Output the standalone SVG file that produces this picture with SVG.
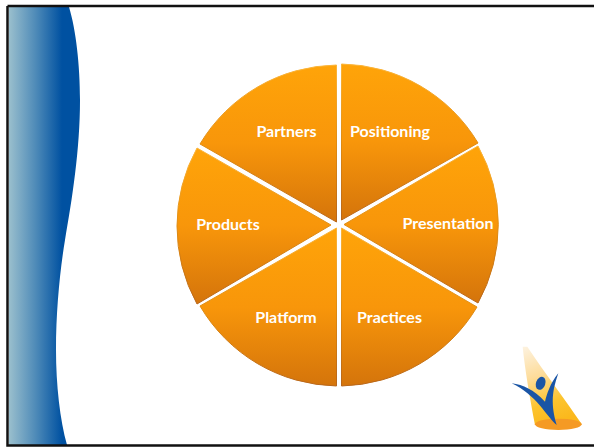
<svg xmlns="http://www.w3.org/2000/svg" width="594" height="447" viewBox="0 0 594 447">
<style>
.w{fill:url(#o);stroke:url(#rim);stroke-width:1}
.t{font-family:Lato,"Liberation Sans",sans-serif;font-weight:700;font-size:16px;fill:#fff;text-anchor:middle}
</style>
<defs>
<linearGradient id="o" x1="0" y1="0" x2="0" y2="1"><stop offset="0" stop-color="#ffa409"/><stop offset=".5" stop-color="#f8960a"/><stop offset="1" stop-color="#d4740b"/></linearGradient>
<linearGradient id="rim" x1="0" y1="0" x2="0" y2="1"><stop offset="0" stop-color="#fbb53a"/><stop offset=".5" stop-color="#e08c12"/><stop offset="1" stop-color="#b8661a"/></linearGradient>
<linearGradient id="band" gradientUnits="userSpaceOnUse" x1="9" y1="0" x2="62" y2="0"><stop offset="0" stop-color="#9abfcd"/><stop offset=".5" stop-color="#4f8bb8"/><stop offset="1" stop-color="#0051a1"/></linearGradient>
<linearGradient id="beam" gradientUnits="userSpaceOnUse" x1="105" y1="45" x2="190" y2="280"><stop offset="0" stop-color="#fdf3e2"/><stop offset=".4" stop-color="#fddc9a"/><stop offset=".75" stop-color="#fcc42e"/><stop offset="1" stop-color="#fbb81c"/></linearGradient>
</defs>
<rect width="594" height="447" fill="#fff"/>
<path id="band-shape" d="M9 7H69C76 30 80 65 80 100C80 150 72 200 65 240C60 270 56 310 56 350C56 385 60 420 67 445H9Z" fill="url(#band)"/>
<path id="frame" d="M7.500 6H594M7.500 6V445.500H594" fill="none" stroke="#111" stroke-width="2.500"/>
<g id="connectors"></g>
<g id="partners"><path class="w" d="M336.500 222V65A162 162 0 0 0 200 144Z"/><text class="t" x="286.500" y="137">Partners</text></g>
<g id="positioning"><path class="w" d="M341.500 220V64A162 162 0 0 1 478 143Z"/><text class="t" x="390" y="137">Positioning</text></g>
<g id="presentation"><path class="w" d="M344 224.500L478 146A162 162 0 0 1 478 303Z"/><text class="t" x="448" y="229">Presentation</text></g>
<g id="practices"><path class="w" d="M341.500 228L477 307A162 162 0 0 1 341.500 386Z"/><text class="t" x="389.500" y="323">Practices</text></g>
<g id="platform"><path class="w" d="M336.500 228V386A162 162 0 0 1 200 306Z"/><text class="t" x="286" y="323">Platform</text></g>
<g id="products"><path class="w" d="M331 225L197 304A162 162 0 0 1 197 148Z"/><text class="t" x="228" y="230">Products</text></g>
<g id="logo" transform="translate(490 330) scale(.3333)">
<path d="M98 50L112 50C165 130 230 215 275 282L135 285C120 205 105 120 98 50Z" fill="url(#beam)"/>
<ellipse cx="205" cy="283" rx="70" ry="17" fill="#f59a24"/>
<path d="M65 160C100 165 130 178 165 215C170 195 180 160 205 130C192 170 178 210 200 285C170 260 140 195 65 160Z" fill="#1a55a5"/>
<ellipse cx="152" cy="160" rx="14" ry="20" transform="rotate(20 152 160)" fill="#1a55a5"/>
</g>
</svg>
